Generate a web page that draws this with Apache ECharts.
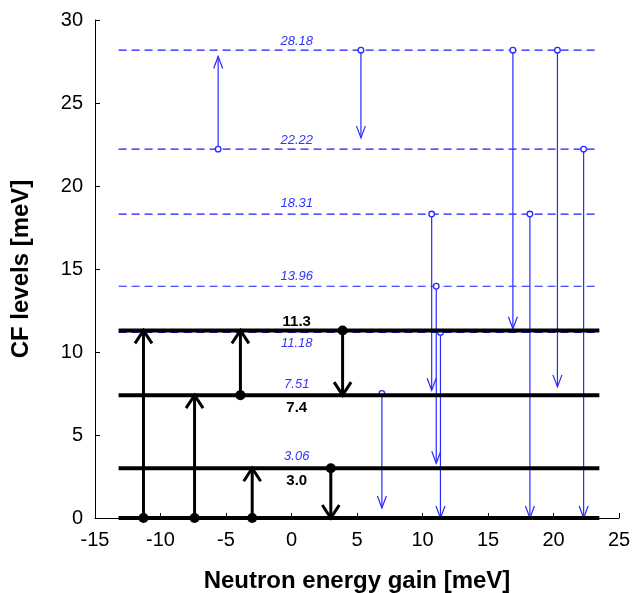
<!DOCTYPE html>
<html>
<head>
<meta charset="utf-8">
<script src="https://cdn.jsdelivr.net/npm/echarts@6/dist/echarts.min.js"></script>
<style>
  html, body { margin: 0; padding: 0; background: #fff; }
  #chart { width: 633px; height: 593px; }
</style>
</head>
<body>
<div id="chart"></div>
<script>
// CF levels (meV)
var blackLevels = [0, 3.0, 7.4, 11.3];
var blueLevels = [11.18, 13.96, 18.31, 22.22, 28.18];
var blackLabels = ['3.0', '7.4', '11.3'];
var blueLabels = ['3.06', '7.51', '11.18', '13.96', '18.31', '22.22', '28.18'];
var levelSpan = [-13.2, 23.5];
var labelX = 0.4;

// black transitions: x position, start level, end level
var blackArrowX = [-11.3, -7.4, -3.0, -3.9, 3.9, 3.0];
var blackArrowFrom = [0, 0, 0, 7.4, 11.3, 3.0];
var blackArrowTo = [11.3, 7.4, 3.0, 11.3, 7.4, 0];

// blue transitions
var blueArrowX = [-5.6, 5.3, 16.9, 20.3, 22.3, 10.7, 11.05, 11.37, 18.2, 6.9];
var blueArrowFrom = [22.22, 28.18, 28.18, 28.18, 22.22, 18.31, 13.96, 11.18, 18.31, 7.51];
var blueArrowTo = [27.8, 22.9, 11.4, 7.9, 0, 7.7, 3.3, 0, 0, 0.6];

var dom = document.getElementById('chart');
var myChart = echarts.init(dom);

function arrows(xs, from, to) {
    return xs.map(function (x, i) { return [x, from[i], to[i]]; });
}

function arrowRender(color, lw, headW, headH, dotR, filled) {
    return function (params, api) {
        var x = api.value(0), y0 = api.value(1), y1 = api.value(2);
        var p0 = api.coord([x, y0]);
        var p1 = api.coord([x, y1]);
        var dir = p1[1] < p0[1] ? 1 : -1;
        var armY = p1[1] + dir * headH;
        return {
            type: 'group',
            children: [
                { type: 'line', shape: { x1: p0[0], y1: p0[1], x2: p1[0], y2: p1[1] },
                  style: { stroke: color, lineWidth: lw } },
                { type: 'polyline', shape: { points: [[p1[0] - headW / 2, armY], [p1[0], p1[1]], [p1[0] + headW / 2, armY]] },
                  style: { stroke: color, lineWidth: lw, fill: null } },
                { type: 'circle', shape: { cx: p0[0], cy: p0[1], r: dotR },
                  style: { stroke: color, lineWidth: filled ? 0 : 1.3, fill: filled ? color : '#fff' } }
            ]
        };
    };
}

function labelRender(texts, color, font, offsets) {
    return function (params, api) {
        var p = api.coord([api.value(0), api.value(1)]);
        return {
            type: 'text',
            x: p[0], y: p[1] + offsets[params.dataIndex],
            style: { text: texts[params.dataIndex], fill: color, font: font, align: 'center', verticalAlign: 'middle' }
        };
    };
}

var series = [];

blueLevels.forEach(function (v) {
    series.push({
        type: 'line', data: [[levelSpan[0], v], [levelSpan[1], v]],
        showSymbol: false, silent: true, z: 1,
        lineStyle: { color: '#1a1aff', width: 1.2, type: [8, 5] }
    });
});

series.push({
    type: 'custom', z: 2, clip: false,
    renderItem: arrowRender('#2a2aff', 1.2, 9, 12, 2.8, false),
    encode: { x: 0, y: [1, 2] },
    data: arrows(blueArrowX, blueArrowFrom, blueArrowTo)
});

blackLevels.forEach(function (v) {
    series.push({
        type: 'line', data: [[levelSpan[0], v], [levelSpan[1], v]],
        showSymbol: false, silent: true, z: 3,
        lineStyle: { color: '#000', width: 4 }
    });
});

series.push({
    type: 'custom', z: 4, clip: false,
    renderItem: arrowRender('#000', 3, 17, 13, 5, true),
    encode: { x: 0, y: [1, 2] },
    data: arrows(blackArrowX, blackArrowFrom, blackArrowTo)
});

// label offsets in px (negative = above line)
var blueOffsets = [-11, -9, 11, -10, -11, -9, -9];
var blackOffsets = [13, 13, -9];

series.push({
    type: 'custom', z: 5, clip: false,
    renderItem: labelRender(blueLabels, '#3333ff', 'italic 13px "Liberation Sans", Arial, sans-serif', blueOffsets),
    encode: { x: 0, y: 1 },
    data: blueLabels.map(function (t) { return [labelX, parseFloat(t)]; })
});

series.push({
    type: 'custom', z: 5, clip: false,
    renderItem: labelRender(blackLabels, '#000', 'bold 15px "Liberation Sans", Arial, sans-serif', blackOffsets),
    encode: { x: 0, y: 1 },
    data: blackLabels.map(function (t) { return [labelX, parseFloat(t)]; })
});

var axisFont = '"Liberation Sans", Arial, sans-serif';

var option = {
    animation: false,
    backgroundColor: '#fff',
    grid: { left: 95, right: 14, top: 20, bottom: 75, containLabel: false, outerBoundsMode: 'none' },
    xAxis: {
        type: 'value', min: -15, max: 25, interval: 5,
        name: 'Neutron energy gain [meV]', nameLocation: 'middle', nameGap: 51,
        nameTextStyle: { color: '#000', fontSize: 24, fontWeight: 'bold', fontFamily: axisFont },
        axisLine: { onZero: false, lineStyle: { color: '#000', width: 1 } },
        axisTick: { inside: true, length: 5, lineStyle: { color: '#000' } },
        axisLabel: { color: '#000', fontSize: 20, fontFamily: axisFont, margin: 12 },
        splitLine: { show: false }
    },
    yAxis: {
        type: 'value', min: 0, max: 30, interval: 5,
        name: 'CF levels [meV]', nameLocation: 'middle', nameGap: 62,
        nameTextStyle: { color: '#000', fontSize: 24, fontWeight: 'bold', fontFamily: axisFont },
        axisLine: { show: true, onZero: false, lineStyle: { color: '#000', width: 1 } },
        axisTick: { show: true, inside: true, length: 5, lineStyle: { color: '#000' } },
        axisLabel: { color: '#000', fontSize: 20, fontFamily: axisFont, margin: 12 },
        splitLine: { show: false }
    },
    series: series
};

myChart.setOption(option, true);
</script>
</body>
</html>
